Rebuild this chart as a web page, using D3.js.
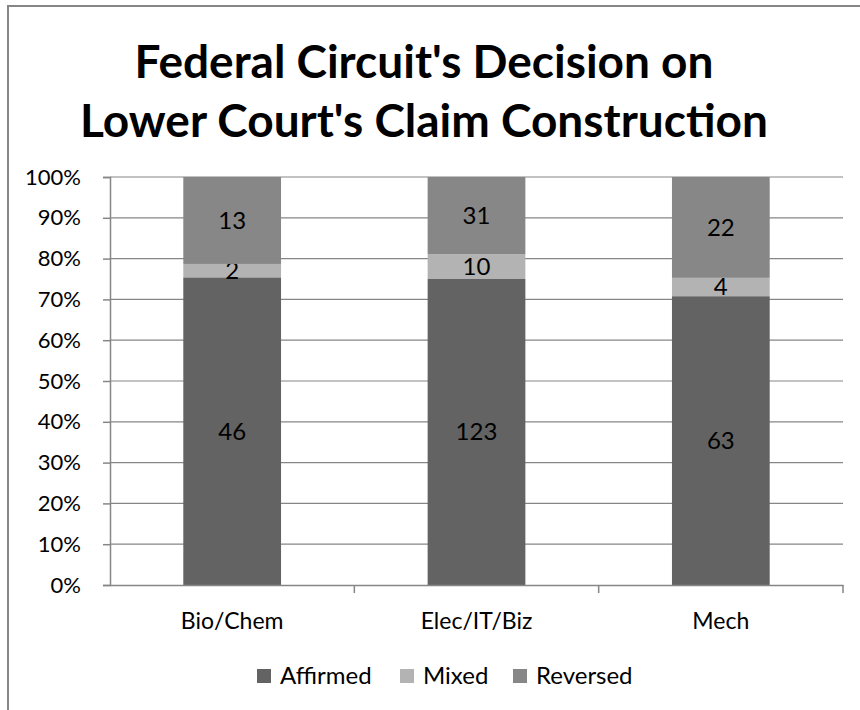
<!DOCTYPE html>
<html>
<head>
<meta charset="utf-8">
<script src="https://cdn.jsdelivr.net/npm/d3@7"></script>
<style>
  body { margin: 0; background: #fff; }
  svg text { font-family: Lato, "Open Sans", sans-serif; }
</style>
</head>
<body>
<div id="chart"></div>
<script>
const width = 860,
    height = 710;

// chart values
const categories = ['Bio/Chem', 'Elec/IT/Biz', 'Mech'];
const seriesNames = ['Affirmed', 'Mixed', 'Reversed'];
const affirmed = [46, 123, 63];
const mixed = [2, 10, 4];
const reversed = [13, 31, 22];
const yTicks = [0, 0.1, 0.2, 0.3, 0.4, 0.5, 0.6, 0.7, 0.8, 0.9, 1];
const titleLines = ["Federal Circuit's Decision on", "Lower Court's Claim Construction"];

const colors = ['#636363', '#b3b3b3', '#878787'];

const plot = { left: 110, right: 843, top: 177, bottom: 585 };

const svg = d3.select('#chart')
    .append('svg')
    .attr('width', width)
    .attr('height', height);

// outer chart frame (runs off the right/bottom of the picture)
svg.append('rect')
    .attr('x', 8)
    .attr('y', 6)
    .attr('width', 900)
    .attr('height', 760)
    .attr('fill', 'none')
    .attr('stroke', '#868686')
    .attr('stroke-width', 2);

// title
svg.selectAll('.title')
    .data(titleLines)
    .enter()
    .append('text')
    .attr('class', 'title')
    .attr('x', 424)
    .attr('y', (d, i) => 78 + i * 59)
    .attr('text-anchor', 'middle')
    .style('font-size', '46px')
    .style('font-weight', 'bold')
    .text(d => d);

// build table for stacking
const table = categories.map((c, i) => ({
    cat: c,
    Affirmed: affirmed[i],
    Mixed: mixed[i],
    Reversed: reversed[i]
}));

const stack = d3.stack()
    .keys(seriesNames)
    .offset(d3.stackOffsetExpand);
const layers = stack(table);

const xScale = d3.scaleBand()
    .domain(categories)
    .range([plot.left, plot.right])
    .paddingInner(0.6)
    .paddingOuter(0.3);

const xOuter = d3.scaleBand()
    .domain(categories)
    .range([plot.left, plot.right]);

const yScale = d3.scaleLinear()
    .domain([0, 1])
    .range([plot.bottom, plot.top]);

// gridlines
svg.append('g')
    .selectAll('line')
    .data(yTicks.slice(1))
    .enter()
    .append('line')
    .attr('x1', plot.left)
    .attr('x2', plot.right)
    .attr('y1', d => yScale(d))
    .attr('y2', d => yScale(d))
    .attr('stroke', '#868686')
    .attr('stroke-width', 1.2);

// bars
const groups = svg.selectAll('.layer')
    .data(layers)
    .enter()
    .append('g')
    .attr('class', 'layer')
    .attr('fill', (d, i) => colors[i]);

groups.selectAll('rect')
    .data(d => d)
    .enter()
    .append('rect')
    .attr('x', d => xScale(d.data.cat))
    .attr('width', xScale.bandwidth())
    .attr('y', d => yScale(d[1]))
    .attr('height', d => yScale(d[0]) - yScale(d[1]));

// data labels
groups.each(function(layer) {
    d3.select(this).selectAll('text')
        .data(layer)
        .enter()
        .append('text')
        .attr('x', d => xScale(d.data.cat) + xScale.bandwidth() / 2)
        .attr('y', d => (yScale(d[0]) + yScale(d[1])) / 2)
        .attr('dy', '0.35em')
        .attr('text-anchor', 'middle')
        .attr('fill', '#000')
        .style('font-size', '24px')
        .text(d => d.data[layer.key]);
});

// y axis
const yAxis = d3.axisLeft(yScale)
    .tickValues(yTicks)
    .tickSize(7)
    .tickPadding(22)
    .tickFormat(d3.format('.0%'));

const yAxisG = svg.append('g')
    .attr('transform', 'translate(' + plot.left + ',0)')
    .call(yAxis);

// x axis
const xAxis = d3.axisBottom(xOuter)
    .tickSize(0)
    .tickPadding(28);

const xAxisG = svg.append('g')
    .attr('transform', 'translate(0,' + plot.bottom + ')')
    .call(xAxis);

// category separators
xAxisG.selectAll('.sep')
    .data(categories.slice(1).concat(['end']))
    .enter()
    .append('line')
    .attr('class', 'sep')
    .attr('x1', (d, i) => i < 2 ? xOuter(d) : plot.right)
    .attr('x2', (d, i) => i < 2 ? xOuter(d) : plot.right)
    .attr('y1', 0)
    .attr('y2', 8);

[yAxisG, xAxisG].forEach(g => {
    g.select('.domain').attr('stroke', '#868686').attr('stroke-width', 1.5);
    g.selectAll('line').attr('stroke', '#868686').attr('stroke-width', 1.5);
    g.selectAll('text')
        .attr('fill', '#000')
        .style('font-family', 'Lato, "Open Sans", sans-serif');
});
yAxisG.selectAll('text').style('font-size', '22px');
xAxisG.selectAll('text').style('font-size', '23px');

// legend
const legendX = [257, 400, 513];
const legend = svg.selectAll('.legend')
    .data(seriesNames)
    .enter()
    .append('g')
    .attr('class', 'legend')
    .attr('transform', (d, i) => 'translate(' + legendX[i] + ',669)');

legend.append('rect')
    .attr('width', 14)
    .attr('height', 14)
    .attr('fill', (d, i) => colors[i]);

legend.append('text')
    .attr('x', 23)
    .attr('y', 15)
    .style('font-size', '24px')
    .text(d => d);
</script>
</body>
</html>
